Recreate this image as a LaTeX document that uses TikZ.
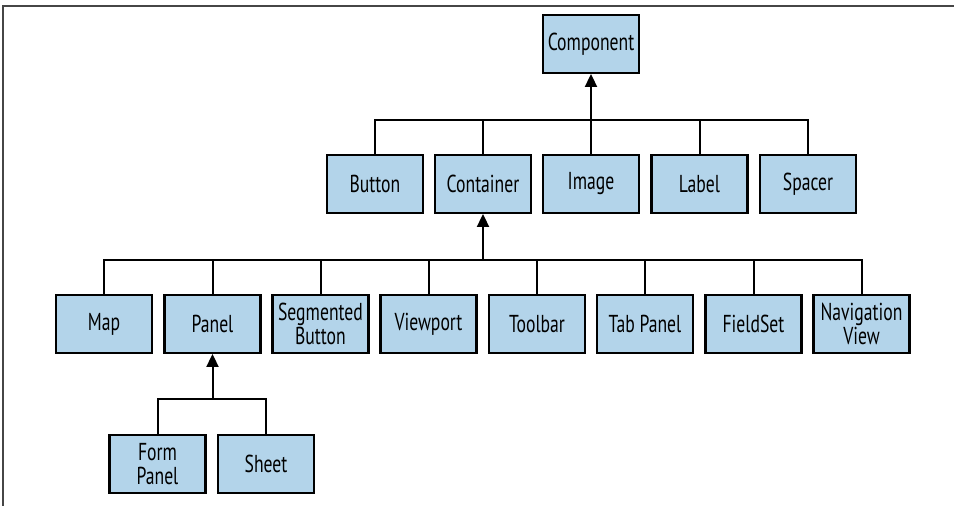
\documentclass[tikz,border=0pt]{standalone}
\usepackage{fontspec}
\setmainfont{PT Sans}[FakeStretch=0.72]
\usetikzlibrary{arrows.meta}
\definecolor{boxblue}{RGB}{179,212,234}
\definecolor{framegray}{RGB}{70,70,70}
\tikzset{
  classbox/.style={draw=black, fill=boxblue, line width=2.4pt, minimum width=96pt,
    minimum height=57.5pt, inner sep=0pt, align=center,
    font=\fontsize{24.5}{24}\selectfont},
  tree/.style={line width=2pt},
  inherit/.style={tree, -{Triangle[width=12pt,length=13pt]}},
}
\newcommand{\ClassBox}[3]{\node[classbox] (#1) at (#2) {#3};}

\begin{document}
\begin{tikzpicture}[x=1pt, y=-1pt]
\useasboundingbox (0,0) rectangle (954,506);
\draw[framegray, line width=1.4pt] (3,506) -- (3,6) -- (954,6);

\ClassBox{Component}{591,44}{Component}

	\ClassBox{Button}{375,184}{Button}
	\ClassBox{Container}{483,184}{Container}
	\ClassBox{Image}{591,184}{Image}
	\ClassBox{Label}{699.5,184}{Label}
	\ClassBox{Spacer}{808,184}{Spacer}

	\ClassBox{Map}{104,324}{Map}
	\ClassBox{Panel}{212.5,324}{Panel}
	\ClassBox{Segmented}{320.5,324}{Segmented\\Button}
	\ClassBox{Viewport}{428.5,324}{Viewport}
	\ClassBox{Toolbar}{537,324}{Toolbar}
	\ClassBox{TabPanel}{645,324}{Tab Panel}
	\ClassBox{FieldSet}{753.5,324}{FieldSet}
	\ClassBox{Navigation}{861.5,324}{Navigation\\View}

	\ClassBox{FormPanel}{157.5,464}{Form\\Panel}
	\ClassBox{Sheet}{266,464}{Sheet}

\coordinate (compbus) at (591,120);
\coordinate (contbus) at (483,260);
\coordinate (panelbus) at (212.5,399);

\foreach \c in {Button,Container,Image,Label,Spacer}
	\draw[tree] (\c.north) |- (compbus);
\foreach \c in {Map,Panel,Segmented,Viewport,Toolbar,TabPanel,FieldSet,Navigation}
	\draw[tree] (\c.north) |- (contbus);
\foreach \c in {FormPanel,Sheet}
	\draw[tree] (\c.north) |- (panelbus);

\draw[inherit] (compbus) -- (Component.south);
\draw[inherit] (contbus) -- (Container.south);
\draw[inherit] (panelbus) -- (Panel.south);

\end{tikzpicture}
\end{document}
